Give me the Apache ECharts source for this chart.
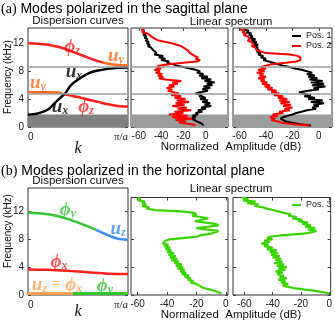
<!DOCTYPE html>
<html>
<head>
<meta charset="utf-8">
<script src="https://cdn.jsdelivr.net/npm/echarts@6/dist/echarts.min.js"></script>
<style>
html, body { margin: 0; padding: 0; background: #fff; }
#chart { width: 335px; height: 322px; }
</style>
</head>
<body>
<div id="chart"></div>
<script>
// frequency samples (kHz) shared by every spectrum
const freq = [
  14.0, 13.8, 13.6, 13.4, 13.2, 13.0, 12.8, 12.6, 12.4, 12.2,
  12.0, 11.8, 11.6, 11.4, 11.2, 11.0, 10.8, 10.6, 10.4, 10.2,
  10.0, 9.8, 9.6, 9.4, 9.2, 9.0, 8.8, 8.6, 8.4, 8.2,
  8.0, 7.8, 7.6, 7.4, 7.2, 7.0, 6.8, 6.6, 6.4, 6.2,
  6.0, 5.8, 5.6, 5.4, 5.2, 5.0, 4.8, 4.6, 4.4, 4.2,
  4.0, 3.8, 3.6, 3.4, 3.2, 3.0, 2.8, 2.6, 2.4, 2.2,
  2.0, 1.8, 1.6, 1.4, 1.2, 1.0, 0.8, 0.6, 0.4, 0.2
];

// (a) sagittal plane, normalized amplitude (dB)
const pos1Norm = [
  -57, -55, -57, -54, -56, -53, -55, -52, -54, -51,
  -53, -50, -52, -49, -50, -47, -48, -44, -46, -38,
  -42, -36, -40, -33, -35, -29, -26, -20, -14, -9,
  -5, -8, -2, -6, 2, -4, 5, -1, 8, 1,
  6, -2, 4, -3, 2, -5, -9, -3, -6, 0,
  -5, 2, -3, 4, -1, 5, -4, 0, -7, -3,
  -9, -7, -12, -9, -13, -10, -8, -5, -3, -2
];
const pos2Norm = [
  -58, -55, -57, -52, -53, -49, -48, -45, -42, -36,
  -30, -26, -22, -20, -19, -16, -17, -14, -15, -10,
  -7, -9, -5, -8, -20, -33, -42, -44, -40, -46,
  -41, -45, -39, -43, -38, -42, -36, -22, -30, -25,
  -33, -28, -35, -30, -34, -29, -24, -31, -22, -28,
  -18, -26, -15, -27, -19, -30, -17, -25, -13, -28,
  -20, -33, -16, -30, -12, -27, -18, -24, -12, -9
];
// (a) sagittal plane, amplitude (dB)
const pos1Amp = [
  -57, -53, -55, -51, -53, -50, -52, -48, -51, -47,
  -50, -46, -49, -46, -48, -45, -47, -44, -46, -42,
  -44, -40, -42, -38, -34, -31, -27, -22, -18, -13,
  -9, -5, -9, -3, -8, -1, -7, 3, -6, 4,
  -5, 5, -4, 0, -8, -15, -12, -6, -11, -3,
  -8, 3, -6, 4, -4, 0, -5, -2, -9, -13,
  -17, -20, -24, -27, -29, -27, -25, -20, -14, -6
];
const pos2Amp = [
  -60, -56, -58, -55, -57, -54, -55, -52, -54, -51,
  -52, -49, -51, -48, -49, -47, -46, -40, -22, -16,
  -14, -13, -14, -17, -25, -36, -40, -44, -40, -46,
  -41, -47, -42, -45, -40, -46, -41, -44, -39, -43,
  -37, -41, -35, -39, -32, -36, -30, -34, -27, -31,
  -24, -30, -22, -29, -21, -27, -20, -26, -22, -30,
  -27, -35, -31, -37, -33, -36, -31, -28, -19, -7
];
// (b) horizontal plane
const pos3Norm = [
  -60, -58, -60, -55, -57, -54, -57, -52, -54, -48,
  -30, -22, -20, -23, -17, -12, -16, -21, -14, -7,
  -5, -12, -20, -13, -5, -4, -10, -17, -19, -28,
  -38, -41, -40, -43, -39, -42, -38, -41, -37, -40,
  -35, -39, -34, -38, -33, -37, -32, -35, -30, -34,
  -29, -33, -28, -31, -27, -30, -25, -28, -24, -26,
  -22, -24, -20, -21, -17, -15, -11, -8, -5, -3
];
const pos3Amp = [
  -62, -57, -61, -52, -58, -50, -53, -47, -44, -40,
  -36, -32, -27, -29, -23, -26, -19, -22, -15, -19,
  -13, -17, -10, -15, -9, -13, -18, -32, -41, -44,
  -40, -46, -42, -48, -43, -46, -40, -44, -37, -42,
  -36, -41, -35, -40, -34, -38, -33, -39, -32, -37,
  -30, -36, -31, -38, -33, -37, -32, -35, -30, -36,
  -31, -34, -29, -33, -30, -25, -18, -10, -4, 0
];

// dispersion curves, k in units of pi/a, f in kHz
const phiZUpK = [0, 0.1, 0.2, 0.3, 0.4, 0.5, 0.6, 0.7, 0.75];
const phiZUpF = [12.0, 11.95, 11.8, 11.5, 11.05, 10.5, 9.95, 9.45, 9.25];
const uYUpK = [0.75, 0.8, 0.9, 1.0];
const uYUpF = [9.25, 9.08, 8.88, 8.82];
const uYLowK = [0, 0.1, 0.2, 0.3, 0.34];
const uYLowF = [5.0, 5.0, 5.0, 4.95, 4.85];
const phiZLowK = [0.34, 0.4, 0.5, 0.6, 0.7, 0.8, 0.9, 1.0];
const phiZLowF = [4.7, 4.6, 4.3, 3.95, 3.6, 3.25, 3.02, 2.95];
const uXK = [0, 0.1, 0.2, 0.3, 0.37, 0.43, 0.52, 0.62, 0.7, 0.78, 0.9, 1.0];
const uXF = [1.75, 1.95, 2.5, 3.9, 4.8, 6.0, 7.0, 7.8, 8.1, 8.3, 8.5, 8.55];

const phiYK = [0, 0.1, 0.2, 0.3, 0.4, 0.5, 0.6, 0.68];
const phiYF = [11.75, 11.7, 11.55, 11.25, 10.85, 10.35, 9.8, 9.3];
const uZK = [0.68, 0.8, 0.9, 1.0];
const uZF = [9.3, 8.55, 8.05, 7.9];
const phiXK = [0, 0.2, 0.4, 0.6, 0.8, 1.0];
const phiXF = [3.65, 3.6, 3.45, 3.25, 3.05, 3.0];
const flatOrangeK = [0, 0.45];
const flatGreenK = [0.45, 1.0];
const flatF = [0.2, 0.2];

const bandTop = 1.8;           // grey band, kHz
const markFreqs = [8.7, 4.72]; // grey horizontal lines
const dbTicks = [-60, -40, -20, 0];
const freqTicks = [0, 4, 8, 12];

const SANS = 'Liberation Sans, Arial, sans-serif';
const SERIF = 'Liberation Serif, DejaVu Serif, serif';
const RED = '#ff1f1f';
const UY = '#ff6a1a';
const GREEN = '#33c633';
const BLUE = '#3d8ff0';
const ORANGE = '#ffa04d';
const SPEC_GREEN = '#3ad400';

const grids = [
  { left: 28, top: 28, width: 100, height: 99 },
  { left: 131, top: 28, width: 97, height: 99 },
  { left: 233, top: 28, width: 99, height: 99 },
  { left: 28, top: 188, width: 100, height: 107 },
  { left: 131, top: 197.5, width: 97, height: 97.5 },
  { left: 233, top: 197.5, width: 99, height: 97.5 }
];
const xRanges = [[0, 1], [-67, 20], [-65, 10], [0, 1], [-64.5, 1.5], [-68, 1]];
const yRanges = [[0, 14.2], [0, 14.2], [0, 14.2], [0, 15.3], [0, 14], [0, 14]];

const tickStyle = { show: true, inside: true, length: 3, lineStyle: { color: '#444' } };
const noLine = { show: false, onZero: false };
const xAxes = [];
const yAxes = [];
grids.forEach(function (g, i) {
  const disp = i === 0 || i === 3;
  const base = { gridIndex: i, type: 'value', min: xRanges[i][0], max: xRanges[i][1],
    axisLine: noLine, splitLine: { show: false } };
  xAxes.push(Object.assign({}, base, {
    position: 'bottom',
    axisTick: disp ? { show: false } : Object.assign({ customValues: dbTicks }, tickStyle),
    axisLabel: disp ? {
      customValues: [0, 1], margin: 5, color: '#222', fontFamily: SANS, fontSize: 10,
      alignMinLabel: 'left', alignMaxLabel: 'right',
      formatter: function (v) { return v === 0 ? '0' : '{p|π/}{a|a}'; },
      rich: { p: { fontFamily: SERIF, fontSize: 11 }, a: { fontFamily: SERIF, fontSize: 11, fontStyle: 'italic' } }
    } : { customValues: dbTicks, margin: 4, color: '#222', fontFamily: SANS, fontSize: 10 }
  }));
  xAxes.push(Object.assign({}, base, {
    position: 'top',
    axisTick: disp ? { show: false } : Object.assign({ customValues: dbTicks }, tickStyle),
    axisLabel: { show: false }
  }));
  const ybase = { gridIndex: i, type: 'value', min: yRanges[i][0], max: yRanges[i][1],
    axisLine: noLine, splitLine: { show: false },
    axisTick: Object.assign({ customValues: freqTicks }, tickStyle) };
  yAxes.push(Object.assign({}, ybase, {
    position: 'left',
    axisLabel: disp ? { customValues: freqTicks, margin: 4, color: '#222', fontFamily: SANS, fontSize: 10 } : { show: false }
  }));
  yAxes.push(Object.assign({}, ybase, { position: 'right', axisLabel: { show: false } }));
});

function pairs(xs, ys) { return xs.map(function (x, i) { return [x, ys[i]]; }); }

function curve(g, xs, ys, color, width) {
  return {
    type: 'line', xAxisIndex: g * 2, yAxisIndex: g * 2, data: pairs(xs, ys),
    smooth: 0.3, symbol: 'none', silent: true, z: 3,
    lineStyle: { color: color, width: width }, itemStyle: { color: color }
  };
}

function spectrum(g, name, values, color, width) {
  return {
    name: name, type: 'line', xAxisIndex: g * 2, yAxisIndex: g * 2,
    data: values.map(function (v, i) { return [v, freq[i]]; }),
    symbol: 'none', silent: true, z: 3,
    lineStyle: { color: color, width: width }, itemStyle: { color: color }
  };
}

// grey low-frequency band and the two grey lines on the sagittal row
function backdrop(g, bandColor) {
  return {
    type: 'line', xAxisIndex: g * 2, yAxisIndex: g * 2, silent: true, z: 1,
    data: [[xRanges[g][0], -5]], symbol: 'none', lineStyle: { opacity: 0 },
    markArea: { silent: true, itemStyle: { color: bandColor }, data: [[{ yAxis: 0 }, { yAxis: bandTop }]] },
    markLine: { silent: true, symbol: 'none', label: { show: false },
      lineStyle: { color: '#9c9c9c', width: 1.5, type: 'solid' },
      data: markFreqs.map(function (f) { return { yAxis: f }; }) }
  };
}

const noteRich = {
  v: { fontFamily: SERIF, fontStyle: 'italic', fontWeight: 'bold', fontSize: 19 },
  s: { fontFamily: SERIF, fontStyle: 'italic', fontWeight: 'bold', fontSize: 12, padding: [8, 0, 0, 0] },
  e: { fontFamily: SERIF, fontSize: 17 }
};
function notes(g, list) {
  return {
    type: 'scatter', xAxisIndex: g * 2, yAxisIndex: g * 2, symbolSize: 0, silent: true, z: 5, clip: false,
    data: list.map(function (n) {
      return { value: [n[0], n[1]], label: { show: true, position: 'inside', formatter: n[2], color: n[3], rich: noteRich } };
    })
  };
}

const sagittalNotes = [
  [0.44, 11.5, '{v|ϕ}{s|z}', RED],
  [0.88, 10.2, '{v|u}{s|y}', UY],
  [0.10, 6.3, '{v|u}{s|y}', UY],
  [0.46, 7.9, '{v|u}{s|x}', '#000'],
  [0.32, 2.9, '{v|u}{s|x}', '#000'],
  [0.58, 2.9, '{v|ϕ}{s|z}', RED]
];
const horizontalNotes = [
  [0.40, 12.2, '{v|ϕ}{s|y}', GREEN],
  [0.90, 9.45, '{v|u}{s|z}', BLUE],
  [0.31, 4.7, '{v|ϕ}{s|x}', RED],
  [0.29, 1.45, '{v|u}{s|z}{e| = }{v|ϕ}{s|x}', ORANGE],
  [0.77, 1.3, '{v|ϕ}{s|y}', GREEN]
];

const series = [
  backdrop(0, '#808080'), backdrop(1, '#9c9c9c'), backdrop(2, '#9c9c9c'),
  curve(0, phiZUpK, phiZUpF, RED, 2.5),
  curve(0, uYUpK, uYUpF, UY, 2.5),
  curve(0, uYLowK, uYLowF, UY, 2.5),
  curve(0, phiZLowK, phiZLowF, RED, 2.5),
  curve(0, uXK, uXF, '#000', 2.5),
  notes(0, sagittalNotes),
  spectrum(1, 'Pos. 1', pos1Norm, '#000', 2),
  spectrum(1, 'Pos. 2', pos2Norm, '#ff0000', 2),
  spectrum(2, 'Pos. 1', pos1Amp, '#000', 2),
  spectrum(2, 'Pos. 2', pos2Amp, '#ff0000', 2),
  curve(3, phiYK, phiYF, GREEN, 2.5),
  curve(3, uZK, uZF, BLUE, 2.5),
  curve(3, phiXK, phiXF, RED, 2.5),
  curve(3, flatOrangeK, flatF, ORANGE, 3),
  curve(3, flatGreenK, flatF, GREEN, 3),
  notes(3, horizontalNotes),
  spectrum(4, 'Pos. 3', pos3Norm, SPEC_GREEN, 2.2),
  spectrum(5, 'Pos. 3', pos3Amp, SPEC_GREEN, 2.2)
];

function label(x, y, text, size, extra) {
  return { type: 'text', x: x, y: y, silent: true, style: Object.assign({
    text: text, fontFamily: SANS, fontSize: size, fill: '#111', align: 'center', verticalAlign: 'middle'
  }, extra || {}) };
}
const titleRich = { s: { fontFamily: SERIF, fontSize: 14 } };

const legendBase = {
  orient: 'vertical', itemWidth: 9, itemHeight: 2, itemGap: 0, padding: 0, icon: 'rect',
  textStyle: { fontFamily: SANS, fontSize: 9, color: '#222', lineHeight: 10 }, selectedMode: false
};

const chart = echarts.init(document.getElementById('chart'));
chart.setOption({
  animation: false,
  grid: grids.map(function (g) {
    return Object.assign({ show: true, borderColor: '#333', borderWidth: 1, backgroundColor: 'transparent' }, g);
  }),
  xAxis: xAxes,
  yAxis: yAxes,
  legend: [
    Object.assign({ data: ['Pos. 1', 'Pos. 2'], left: 292, top: 31 }, legendBase),
    Object.assign({ data: ['Pos. 3'], left: 292, top: 200 }, legendBase)
  ],
  graphic: [
    label(1, 9, '{s|(a)} Modes polarized in the sagittal plane', 14, { align: 'left', rich: titleRich, fill: '#000' }),
    label(1, 171, '{s|(b)} Modes polarized in the horizontal plane', 14, { align: 'left', rich: titleRich, fill: '#000' }),
    label(78, 21, 'Dispersion curves', 11.5),
    label(78, 181, 'Dispersion curves', 11.5),
    label(231, 22, 'Linear spectrum', 11.5),
    label(231, 189, 'Linear spectrum', 11.5),
    label(231, 147, 'Normalized  Amplitude (dB)', 11.5),
    label(231, 315, 'Normalized  Amplitude (dB)', 11.5),
    Object.assign(label(8, 77, 'Frequency (kHz)', 10), { rotation: Math.PI / 2 }),
    Object.assign(label(8, 231, 'Frequency (kHz)', 10), { rotation: Math.PI / 2 }),
    label(78, 149, 'k', 16, { fontFamily: SERIF, fontStyle: 'italic' }),
    label(78, 312, 'k', 16, { fontFamily: SERIF, fontStyle: 'italic' })
  ],
  series: series
});
</script>
</body>
</html>
